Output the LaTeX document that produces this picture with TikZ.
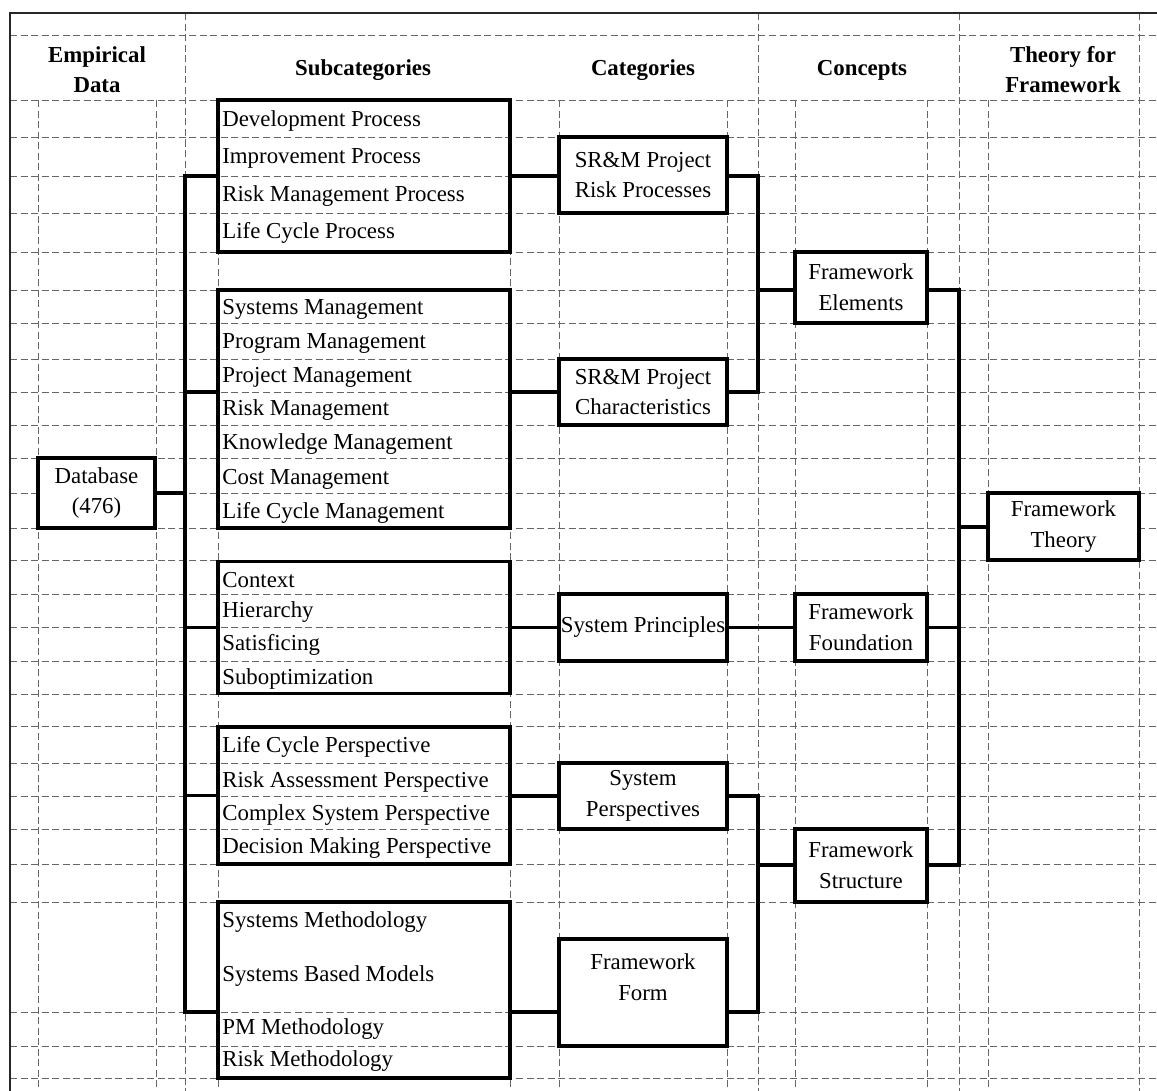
\documentclass[tikz,border=0pt]{standalone}
\usepackage{fontspec}
\setmainfont{Liberation Serif}
\usetikzlibrary{positioning}

\begin{document}
\begin{tikzpicture}[x=0.02cm, y=-0.02cm,
        every node/.style={font=\fontsize{13}{17.5}\selectfont, inner sep=0pt},
        grid/.style={black!60, line width=0.5pt, dash pattern=on 4pt off 2pt},
        border/.style={black!85, line width=0.7pt},
        head/.style={font=\fontsize{13}{17}\selectfont\bfseries, align=center},
        subbox/.style={draw, line width=1.9pt, minimum width=5.84cm},
        box/.style={draw, line width=1.9pt, fill=white, align=center},
        item/.style={anchor=west},
        link/.style={line width=2.1pt}]

        \useasboundingbox (0,0) rectangle (1157,1091);

        % --- SHEET GRID ---
        \draw[grid]
            (10,35) -- (1157,35) (10,100) -- (1157,100) (10,137) -- (1157,137) (10,176) -- (1157,176)
            (10,213) -- (1157,213) (10,252) -- (1157,252) (10,290) -- (1157,290) (10,323) -- (1157,323)
            (10,359) -- (1157,359) (10,392) -- (1157,392) (10,425) -- (1157,425) (10,458) -- (1157,458)
            (10,493) -- (1157,493) (10,528) -- (1157,528) (10,560) -- (1157,560) (10,594) -- (1157,594)
            (10,627) -- (1157,627) (10,661) -- (1157,661) (10,694) -- (1157,694) (10,726) -- (1157,726)
            (10,763) -- (1157,763) (10,796) -- (1157,796) (10,829) -- (1157,829) (10,864) -- (1157,864)
            (10,902) -- (1157,902) (10,1012) -- (1157,1012) (10,1046) -- (1157,1046) (10,1078) -- (1157,1078)
            (185,13) -- (185,1091) (758,13) -- (758,1091) (959,13) -- (959,1091) (1139,13) -- (1139,1091)
            (38,100) -- (38,1091) (156,100) -- (156,1091) (218,100) -- (218,1091) (510,100) -- (510,1091)
            (559,100) -- (559,1091) (727,100) -- (727,1091) (795,100) -- (795,1091) (927,100) -- (927,1091)
            (988,100) -- (988,1091);
        \draw[border] (1157,13) -- (10,13) -- (10,1091);

        % --- COLUMN HEADS ---
        \node[head] (hdata) at (97,70) {Empirical\\Data};
        \node[head] (hsub) at (363,70) {Subcategories};
        \node[head] (hcat) at (643,70) {Categories};
        \node[head] (hcon) at (862,70) {Concepts};
        \node[head] (htheory) at (1063,70) {Theory for\\Framework};

        % --- EMPIRICAL DATA ---
        \node[box, minimum width=2.34cm, minimum height=1.40cm] (db) at (96.5,493) {Database\\(476)};

        % --- SUBCATEGORIES ---
        \node[subbox, minimum height=3.04cm] (sub1) at (364,176) {};
        \node[item] (dev) at (222,121) {Development Process};
        \node[item] (impr) at (222,158) {Improvement Process};
        \node[item] (riskproc) at (222,196) {Risk Management Process};
        \node[item] (lcproc) at (222,233) {Life Cycle Process};

        \node[subbox, minimum height=4.76cm] (sub2) at (364,409) {};
        \node[item] (sysmgt) at (222,309) {Systems Management};
        \node[item] (progmgt) at (222,343) {Program Management};
        \node[item] (projmgt) at (222,377) {Project Management};
        \node[item] (riskmgt) at (222,410) {Risk Management};
        \node[item] (knowmgt) at (222,444) {Knowledge Management};
        \node[item] (costmgt) at (222,479) {Cost Management};
        \node[item] (lcmgt) at (222,513) {Life Cycle Management};

        \node[subbox, minimum height=2.64cm] (sub3) at (364,627.5) {};
        \node[item] (context) at (222,580) {Context};
        \node[item] (hier) at (222,612) {Hierarchy};
        \node[item] (satis) at (222,645) {Satisficing};
        \node[item] (subopt) at (222,679) {Suboptimization};

        \node[subbox, minimum height=2.74cm] (sub4) at (364,795.5) {};
        \node[item] (lcpersp) at (222,747) {Life Cycle Perspective};
        \node[item] (riskpersp) at (222,782) {Risk Assessment Perspective};
        \node[item] (cplxpersp) at (222,815) {Complex System Perspective};
        \node[item] (decpersp) at (222,848) {Decision Making Perspective};

        \node[subbox, minimum height=3.52cm] (sub5) at (364,990) {};
        \node[item] (sysmeth) at (222,922) {Systems Methodology};
        \node[item] (sysmod) at (222,976) {Systems Based Models};
        \node[item] (pmmeth) at (222,1029) {PM Methodology};
        \node[item] (riskmeth) at (222,1061) {Risk Methodology};

        % --- CATEGORIES ---
        \node[box, minimum width=3.36cm, minimum height=1.52cm] (cat1) at (643,175) {SR\&M Project\\Risk Processes};
        \node[box, minimum width=3.36cm, minimum height=1.32cm] (cat2) at (643,392) {SR\&M Project\\Characteristics};
        \node[box, minimum width=3.36cm, minimum height=1.34cm] (cat3) at (643,627.5) {System Principles};
        \node[box, minimum width=3.36cm, minimum height=1.32cm] (cat4) at (643,796) {System\\Perspectives};
        \node[box, minimum width=3.36cm, minimum height=2.14cm] (cat5) at (643,992.5) {Framework\\Form\\\mbox{}};

        % --- CONCEPTS ---
        \node[box, minimum width=2.64cm, minimum height=1.42cm] (con1) at (861,287.5) {Framework\\Elements};
        \node[box, minimum width=2.64cm, minimum height=1.34cm] (con2) at (861,627.5) {Framework\\Foundation};
        \node[box, minimum width=2.64cm, minimum height=1.46cm] (con3) at (861,865.5) {Framework\\Structure};

        % --- THEORY ---
        \node[box, minimum width=3.02cm, minimum height=1.34cm] (theory) at (1063.5,526.5) {Framework\\Theory};

        % Junctions
        \coordinate (busL) at (185,493);
        \coordinate (busF) at (185,1012);
        \coordinate (busC) at (758,290);
        \coordinate (busD) at (758,865);
        \coordinate (busT) at (959,527);

        % Data to subcategories
        \draw[link] (db.east) -- (busL);
        \draw[link] (sub1.west) -| (busL);
        \draw[link] (sub2.west |- cat2.west) -| (busL);
        \draw[link] (sub3.west) -| (busL);
        \draw[link] (sub4.west) -| (busL);
        \draw[link] (busF -| sub5.west) -- (busF) -- (busL);

        % Subcategories to categories
        \draw[link] (sub1.east) -- (sub1.east -| cat1.west);
        \draw[link] (sub2.east |- cat2.west) -- (cat2.west);
        \draw[link] (sub3.east) -- (cat3.west);
        \draw[link] (sub4.east |- cat4.west) -- (cat4.west);
        \draw[link] (busF -| sub5.east) -- (busF -| cat5.west);

        % Categories to concepts
        \draw[link] (sub1.east -| cat1.east) -| (busC);
        \draw[link] (cat2.east) -| (busC);
        \draw[link] (busC) -- (busC -| con1.west);
        \draw[link] (cat3.east) -- (con2.west);
        \draw[link] (cat4.east) -| (busD);
        \draw[link] (busF -| cat5.east) -| (busD);
        \draw[link] (busD) -- (busD -| con3.west);

        % Concepts to theory
        \draw[link] (busC -| con1.east) -| (busT);
        \draw[link] (con2.east) -| (busT);
        \draw[link] (busD -| con3.east) -| (busT);
        \draw[link] (busT) -- (busT -| theory.west);

    \end{tikzpicture}
\end{document}
